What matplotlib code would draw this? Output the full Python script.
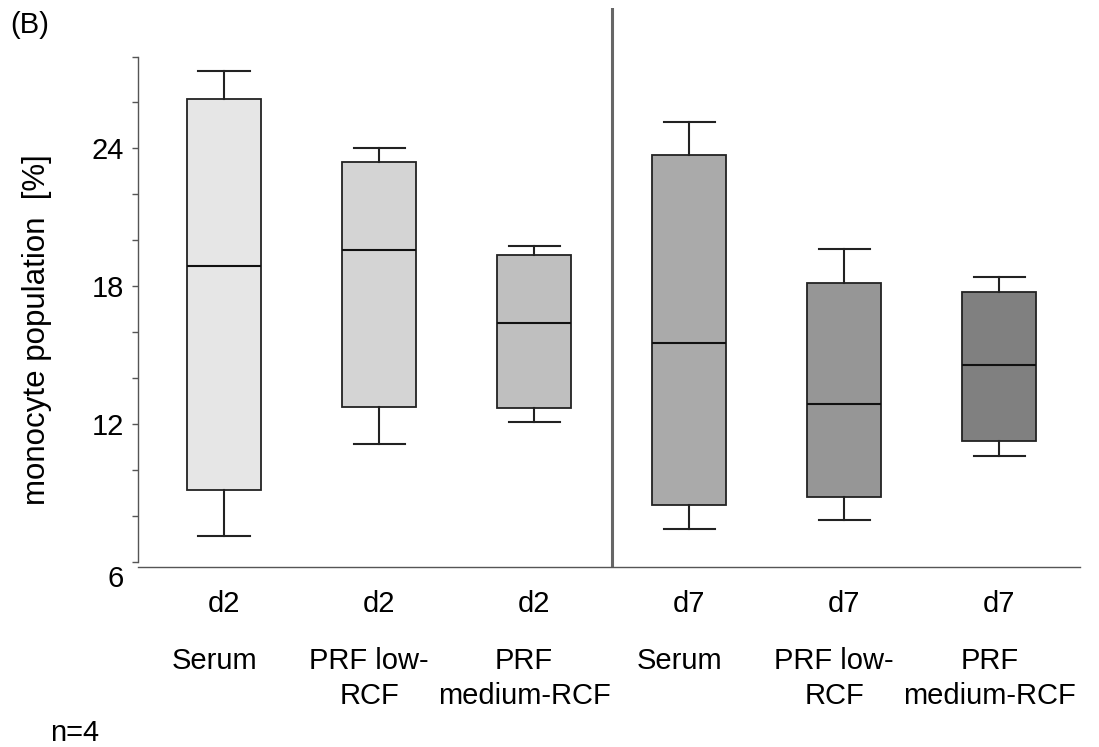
import matplotlib.pyplot as plt
import matplotlib.transforms as mtransforms

plt.rcParams['font.family'] = ['Liberation Sans', 'DejaVu Sans']

# data (monocyte population, %)
days = ['d2', 'd2', 'd2', 'd7', 'd7', 'd7']
groups = ['Serum', 'PRF low-\nRCF', 'PRF\nmedium-RCF',
          'Serum', 'PRF low-\nRCF', 'PRF\nmedium-RCF']
whisker_low = [7.13, 11.13, 12.09, 7.43, 7.83, 10.61]
q1 = [9.13, 12.74, 12.70, 8.48, 8.83, 11.30]
median = [18.87, 19.57, 16.39, 15.52, 12.87, 14.57]
q3 = [26.17, 23.43, 19.35, 23.70, 18.17, 17.78]
whisker_high = [27.39, 24.04, 19.74, 25.13, 19.61, 18.43]
fills = ['#e6e6e6', '#d4d4d4', '#bfbfbf', '#aaaaaa', '#969696', '#808080']

fig = plt.figure(figsize=(10.99, 7.47), dpi=100)
ax = fig.add_axes([0.1256, 0.241, 0.857, 0.748])

stats = []
for i in range(len(days)):
    stats.append(dict(whislo=whisker_low[i], q1=q1[i], med=median[i],
                      q3=q3[i], whishi=whisker_high[i], fliers=[]))
pos = list(range(len(days)))
bp = ax.bxp(stats, positions=pos, widths=0.477, capwidths=0.33,
            patch_artist=True, showfliers=False,
            boxprops=dict(edgecolor='#222222', linewidth=1.3),
            medianprops=dict(color='#111111', linewidth=1.5),
            whiskerprops=dict(color='#222222', linewidth=1.5),
            capprops=dict(color='#222222', linewidth=1.5))
for patch, c in zip(bp['boxes'], fills):
    patch.set_facecolor(c)

# divider between d2 and d7
ax.axvline(2.5, color='#666666', linewidth=2.2)

ax.set_xlim(-0.555, 5.52)
ax.set_ylim(5.8, 30.1)
ax.spines['top'].set_visible(False)
ax.spines['right'].set_visible(False)
ax.spines['left'].set_bounds(6, 28)
ax.spines['left'].set_color('#555555')
ax.spines['bottom'].set_color('#555555')
ax.spines['left'].set_linewidth(1.0)
ax.spines['bottom'].set_linewidth(1.0)

ax.set_xticks([])
ax.set_yticks([6, 12, 18, 24])
ax.set_yticks(range(6, 29, 2), minor=True)
ax.tick_params(axis='y', which='both', length=4, color='#555555',
               width=1.0, labelsize=21, pad=6)
# the "6" label sits a bit lower in the original
lab6 = ax.get_yticklabels()[0]
lab6.set_transform(lab6.get_transform() +
                   mtransforms.ScaledTranslation(0, -14 / 100, fig.dpi_scale_trans))

ax.set_ylabel('monocyte population  [%]', fontsize=22.5)
ax.yaxis.set_label_coords(-0.091, 0.424)

for i in range(len(days)):
    ax.annotate(days[i], xy=(pos[i], 0), xycoords=('data', 'axes fraction'),
                xytext=(0, -37), textcoords='offset pixels',
                ha='center', va='center', fontsize=21)
    ax.annotate(groups[i], xy=(pos[i], 0), xycoords=('data', 'axes fraction'),
                xytext=(-10, -80), textcoords='offset pixels',
                ha='center', va='top', fontsize=21, linespacing=1.3)

fig.text(10 / 1099, 1 - 25 / 747, '(B)', fontsize=21, va='center', ha='left')
fig.text(50 / 1099, 1 - 733 / 747, 'n=4', fontsize=21, va='center', ha='left')

fig.savefig('out.png', dpi=100)
